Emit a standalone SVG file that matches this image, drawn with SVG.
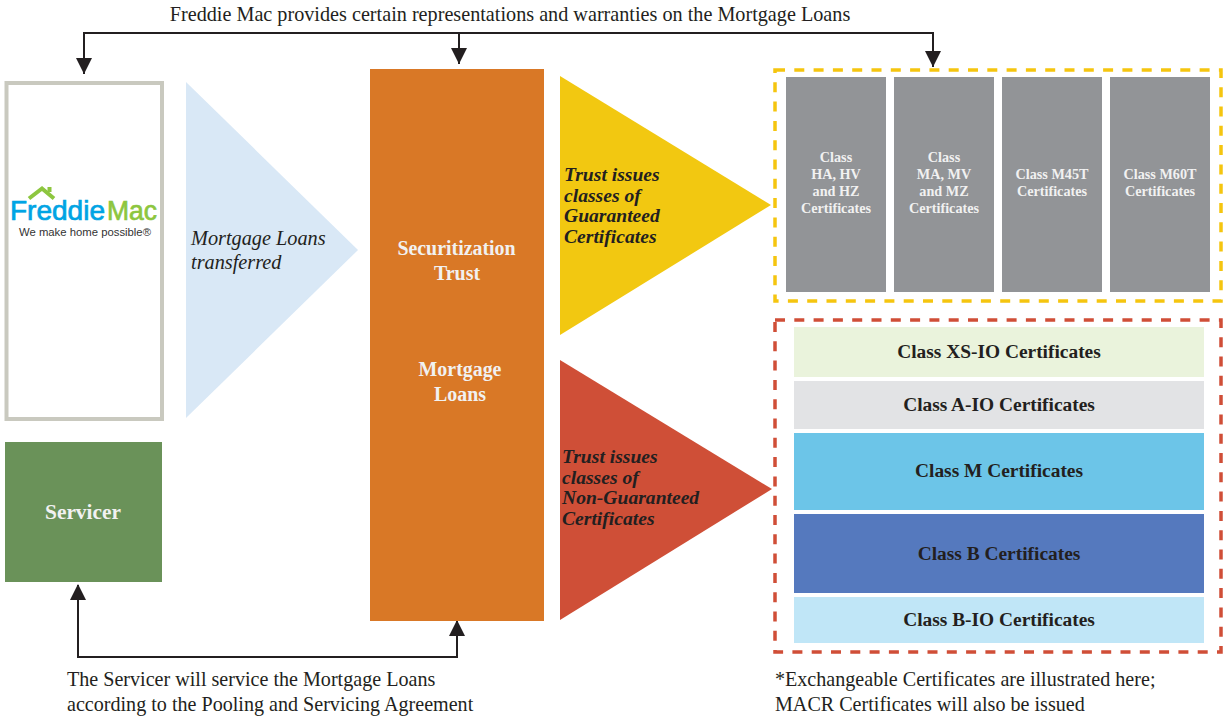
<svg xmlns="http://www.w3.org/2000/svg" width="1225" height="719" viewBox="0 0 1225 719">
<style>
text{font-family:"Liberation Serif","Times New Roman",serif;fill:#231f20}
.m{text-anchor:middle}
.w{fill:#f1f1f1;font-weight:bold;text-anchor:middle}
.g{font-size:14.2px}
.o{font-size:20.3px}
.c{font-size:19.4px;font-weight:bold;text-anchor:middle}
.t{font-size:19.6px;font-weight:bold;font-style:italic}
.n{font-size:20.1px}
.cn{fill:none;stroke:#231f20;stroke-width:2}
.l{font-family:"Liberation Sans",Arial,sans-serif}
</style>
<defs>
<marker id="a" markerUnits="userSpaceOnUse" markerWidth="17" markerHeight="16" refX="16" refY="8" orient="auto"><path d="M0 0L16 8L0 16Z" fill="#231f20"/></marker>
</defs>
<rect width="1225" height="719" fill="#fff"/>
<text id="top-label" x="510" y="21" class="m" font-size="20.2">Freddie Mac provides certain representations and warranties on the Mortgage Loans</text>
<g id="connectors">
<path class="cn" d="M459 33H84V74" marker-end="url(#a)"/>
<path class="cn" d="M459 33V64" marker-end="url(#a)"/>
<path class="cn" d="M459 33H933V67" marker-end="url(#a)"/>
<path class="cn" d="M78 585V657H457V620"/>
<path d="M78 584L70 600H86Z M457 620L449 636H465Z" fill="#231f20"/>
</g>
<g id="freddie-mac">
<rect x="6.500" y="83" width="155.500" height="336" fill="#fff" stroke="#c9c9bf" stroke-width="4"/>
<path d="M29 198.500L42 188.500L54 198.500" fill="none" stroke="#8dc63f" stroke-width="4"/>
<rect x="47.500" y="187" width="4" height="5" fill="#8dc63f"/>
<text x="10" y="219.800" font-size="27" class="l" style="fill:#00a4e4;stroke:#00a4e4;stroke-width:.7" textLength="95" lengthAdjust="spacingAndGlyphs">Freddie</text>
<text x="107" y="219.800" font-size="27" class="l" style="fill:#8dc63f;stroke:#8dc63f;stroke-width:.7" textLength="50" lengthAdjust="spacingAndGlyphs">Mac</text>
<text x="19" y="236" font-size="11.300" class="l" style="fill:#333" textLength="132" lengthAdjust="spacingAndGlyphs">We make home possible®</text>
</g>
<g id="transfer">
<path d="M186 82L358 250L186 418Z" fill="#d9e8f6"/>
<text x="191" y="245" class="o" font-style="italic">Mortgage Loans</text>
<text x="191" y="269" class="o" font-style="italic">transferred</text>
</g>
<g id="servicer">
<rect x="5" y="442" width="157" height="140" fill="#6a9259"/>
<text x="83" y="519" class="w" font-size="21.400">Servicer</text>
</g>
<g id="trust">
<rect x="370" y="69" width="174" height="552" fill="#d97826"/>
<text x="456.500" y="255" class="w" font-size="19.900">Securitization</text>
<text x="457" y="280" class="w" font-size="19.900">Trust</text>
<text x="460" y="376" class="w" font-size="19.900">Mortgage</text>
<text x="460" y="401" class="w" font-size="19.900">Loans</text>
</g>
<g id="guaranteed">
<path d="M560 76L771 205L560 335Z" fill="#f2c811"/>
<text x="564" y="181" class="t">Trust issues</text>
<text x="564" y="202" class="t">classes of</text>
<text x="564" y="222" class="t">Guaranteed</text>
<text x="564" y="243" class="t">Certificates</text>
</g>
<g id="non-guaranteed">
<path d="M560 360L772 489L560 620Z" fill="#cf4f37"/>
<text x="562" y="463" class="t">Trust issues</text>
<text x="562" y="484" class="t">classes of</text>
<text x="562" y="504" class="t">Non-Guaranteed</text>
<text x="562" y="525" class="t">Certificates</text>
</g>
<g id="guaranteed-group">
<rect x="775" y="70" width="446" height="231" fill="none" stroke="#f5c50f" stroke-width="3.500" stroke-dasharray="10 9.300"/>
</g>
<g id="class-ha">
<rect x="786" y="77" width="100" height="215" fill="#929497"/>
<text x="836" y="162" class="w g">Class</text><text x="836" y="179" class="w g">HA, HV</text><text x="836" y="196" class="w g">and HZ</text><text x="836" y="213" class="w g">Certificates</text>
</g>
<g id="class-ma">
<rect x="894" y="77" width="100" height="215" fill="#929497"/>
<text x="944" y="162" class="w g">Class</text><text x="944" y="179" class="w g">MA, MV</text><text x="944" y="196" class="w g">and MZ</text><text x="944" y="213" class="w g">Certificates</text>
</g>
<g id="class-m45t">
<rect x="1002" y="77" width="100" height="215" fill="#929497"/>
<text x="1052" y="179" class="w g">Class M45T</text><text x="1052" y="196" class="w g">Certificates</text>
</g>
<g id="class-m60t">
<rect x="1110" y="77" width="100" height="215" fill="#929497"/>
<text x="1160" y="179" class="w g">Class M60T</text><text x="1160" y="196" class="w g">Certificates</text>
</g>
<g id="non-guaranteed-group">
<rect x="775" y="320" width="446" height="332" fill="none" stroke="#d04e37" stroke-width="3.500" stroke-dasharray="10 9.300"/>
</g>
<g id="class-xs-io"><rect x="794" y="327" width="410" height="50" fill="#eaf3dc"/><text x="999" y="358" class="c">Class XS-IO Certificates</text></g>
<g id="class-a-io"><rect x="794" y="381" width="410" height="48" fill="#e2e3e5"/><text x="999" y="411" class="c">Class A-IO Certificates</text></g>
<g id="class-m"><rect x="794" y="433" width="410" height="77" fill="#6cc5e8"/><text x="999" y="477" class="c">Class M Certificates</text></g>
<g id="class-b"><rect x="794" y="514" width="410" height="79" fill="#5579be"/><text x="999" y="560" class="c">Class B Certificates</text></g>
<g id="class-b-io"><rect x="794" y="597" width="410" height="46" fill="#c0e6f7"/><text x="999" y="626" class="c">Class B-IO Certificates</text></g>
<g id="notes">
<text x="67" y="686" class="n">The Servicer will service the Mortgage Loans</text>
<text x="67" y="711" class="n">according to the Pooling and Servicing Agreement</text>
<text x="775" y="686" class="n">*Exchangeable Certificates are illustrated here;</text>
<text x="775" y="711" class="n">MACR Certificates will also be issued</text>
</g>
</svg>
